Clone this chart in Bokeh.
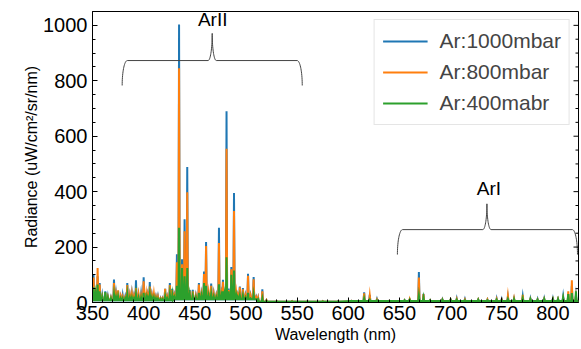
import numpy as np
from bokeh.plotting import figure
from bokeh.models import Range1d, SingleIntervalTicker, Legend, LegendItem
from bokeh.core.properties import value
from bokeh.embed import file_html
from bokeh.resources import INLINE

# ---------------- data ----------------
series_names = ["Ar:1000mbar", "Ar:800mbar", "Ar:400mabr"]
series_colors = ["#1f77b4", "#ff7f0e", "#2ca02c"]

peak_wl = [351.0, 353.0, 355.0, 357.0, 359.5, 362.5, 365.0, 368.0, 371.0, 373.0,
           375.0, 377.5, 379.5, 382.0, 384.0, 386.5, 388.5, 390.5, 392.5, 395.0,
           397.5, 400.0, 402.5, 404.0, 406.0, 408.0, 410.0, 412.0, 414.0, 416.5,
           418.5, 421.0, 423.0, 425.6, 428.0, 430.0, 432.5, 434.6, 437.5, 440.0,
           442.6, 445.0, 448.0, 451.0, 454.0, 456.5, 459.0, 461.0, 463.5, 466.0,
           468.5, 471.0, 473.6, 476.0, 477.5, 479.0, 481.0, 483.0, 485.7, 488.3,
           490.5, 492.0, 494.0, 497.0, 499.5, 502.0, 504.5, 507.5, 510.0, 512.0,
           516.0, 520.0, 530.0, 545.0, 560.0, 575.0, 590.0, 603.0, 615.5, 621.0,
           628.0, 640.0, 655.0, 660.0, 669.0, 673.5, 680.0, 692.0, 700.0, 706.0,
           714.0, 727.0, 736.0, 745.0, 750.0, 756.0, 762.0, 770.5, 778.0, 785.0,
           791.5, 800.0, 805.0, 810.0, 815.0, 818.5, 822.5]

peak_1000 = [100, 40, 95, 70, 25, 40, 22, 18, 83, 30,
             40, 20, 25, 20, 70, 25, 30, 22, 80, 25,
             30, 91, 35, 25, 74, 25, 33, 20, 21, 15,
             15, 49, 20, 70, 49, 25, 174, 1003, 156, 300,
             489, 45, 46, 25, 70, 30, 112, 218, 35, 68,
             30, 25, 270, 30, 82, 40, 690, 50, 128, 395,
             35, 25, 58, 52, 25, 104, 25, 92, 20, 15,
             48, 8, 5, 5, 4, 5, 4, 6, 37, 28,
             12, 6, 8, 10, 110, 31, 8, 11, 10, 14,
             12, 10, 10, 14, 12, 20, 14, 22, 14, 12,
             14, 14, 12, 22, 30, 60, 25]

peak_800 = [90, 45, 124, 65, 22, 35, 20, 18, 70, 28,
            44, 22, 20, 18, 63, 25, 30, 22, 52, 28,
            25, 77, 30, 25, 58, 25, 30, 20, 20, 15,
            15, 49, 20, 63, 45, 25, 145, 845, 138, 257,
            398, 40, 40, 25, 65, 30, 103, 204, 35, 60,
            30, 25, 215, 30, 75, 40, 555, 45, 120, 330,
            35, 25, 55, 48, 25, 96, 25, 84, 20, 15,
            40, 8, 5, 5, 4, 5, 4, 6, 33, 25,
            10, 6, 8, 12, 90, 30, 8, 10, 10, 12,
            10, 10, 10, 12, 10, 24, 15, 28, 12, 10,
            12, 12, 12, 15, 40, 80, 22]

peak_400 = [55, 30, 65, 40, 20, 38, 18, 15, 30, 20,
            22, 15, 15, 15, 30, 18, 18, 15, 30, 18,
            18, 35, 20, 18, 30, 18, 18, 15, 14, 12,
            12, 22, 15, 30, 28, 20, 60, 270, 124, 95,
            124, 30, 25, 20, 35, 25, 70, 60, 25, 30,
            22, 20, 66, 25, 40, 30, 163, 40, 100, 115,
            25, 20, 25, 25, 18, 35, 15, 30, 12, 10,
            15, 6, 4, 4, 4, 4, 4, 5, 15, 10,
            8, 5, 8, 10, 25, 18, 8, 10, 10, 10,
            8, 10, 8, 10, 8, 12, 12, 15, 12, 10,
            12, 12, 12, 18, 30, 34, 40]

# background level between lines, per wavelength band
floor_edges = [350, 430, 512, 600]
floor_1000 = [8, 12, 3, 4]
floor_800 = [10, 14, 3, 4]
floor_400 = [8, 12, 3, 5]

x_ticks_major = 50
y_ticks_major = 200
y_right_major = [0, 200, 400, 600, 800, 1000]
y_right_minor = [50, 100, 150, 250, 300, 350, 450, 500, 550, 650, 700, 750, 850, 900, 950, 1050]

# annotation braces: (left, right, middle, horizontal level, end level, tip level)
brace_arII = (379.0, 555.0, 467.0, 873.0, 783.0, 971.0)
brace_arI = (648.0, 824.0, 735.5, 263.0, 173.0, 356.0)
label_arII = ("ArII", 467.5, 1020.0)
label_arI = ("ArI", 737.5, 411.0)

X_START, X_END = 350, 825

# ---------------- build ----------------
FONT = "Liberation Sans"
p = figure(width=581, height=349, output_backend="svg", toolbar_location=None,
           x_range=Range1d(X_START, X_END), y_range=Range1d(0, 1050),
           min_border_left=92, min_border_right=3, min_border_top=11, min_border_bottom=47)
p.xgrid.visible = False
p.ygrid.visible = False
p.outline_line_color = "black"
p.outline_line_width = 1
p.background_fill_color = "white"
p.border_fill_color = "white"

HW = 0.6


def build(heights, floors):
    xs, ys = [], []
    def fl(w):
        i = int(np.searchsorted(floor_edges, w, side="right")) - 1
        return floors[max(i, 0)]
    xs.append(float(X_START)); ys.append(fl(X_START))
    for w, h in zip(peak_wl, heights):
        f = fl(w)
        xs += [w - HW, w, w + HW]
        ys += [f, h, f]
    xs.append(float(X_END)); ys.append(fl(X_END))
    return xs, ys


renderers = []
for heights, floors, color in [(peak_1000, floor_1000, series_colors[0]),
                               (peak_800, floor_800, series_colors[1]),
                               (peak_400, floor_400, series_colors[2])]:
    xs, ys = build(heights, floors)
    r = p.line(xs, ys, line_color=color, line_width=2.0, line_join="miter")
    renderers.append(r)


def brace(x0, x1, xm, yh, ye, yt, rx_end=5.0, rx_mid=4.0):
    t = np.linspace(0, np.pi / 2, 20)
    lx = x0 + rx_end * (1 - np.cos(t))
    ly = ye + (yh - ye) * np.sin(t)
    mx = xm - rx_mid + rx_mid * np.sin(t)
    my = yh + (yt - yh) * (1 - np.cos(t))
    xs = list(lx) + list(mx) + list((2 * xm - mx)[::-1]) + list((x1 - rx_end * (1 - np.cos(t)))[::-1])
    ys = list(ly) + list(my) + list(my[::-1]) + list(ly[::-1])
    return xs, ys


for b in (brace_arII, brace_arI):
    bx, by = brace(*b)
    p.line(bx, by, line_color="#444444", line_width=1.0)

for txt, tx, ty in (label_arII, label_arI):
    p.text(x=[tx], y=[ty], text=[txt], text_font=value(FONT), text_font_size="19px",
           text_align="center", text_baseline="middle", text_color="black")

# inward ticks on the right spine (dash markers centred on the frame edge, half clipped)
p.scatter(x=[X_END] * len(y_right_major), y=y_right_major, marker="dash", size=10,
          line_color="black", line_width=1)
p.scatter(x=[X_END] * len(y_right_minor), y=y_right_minor, marker="dash", size=6,
          line_color="black", line_width=1)

# axes
for ax in (p.xaxis[0], p.yaxis[0]):
    ax.major_tick_in = 5
    ax.major_tick_out = 0
    ax.minor_tick_in = 3
    ax.minor_tick_out = 0
    ax.axis_line_color = "black"
    ax.major_label_text_font = FONT
    ax.major_label_text_font_size = "20px"
    ax.major_label_text_color = "black"
    ax.axis_label_text_font = FONT
    ax.axis_label_text_font_size = "16px"
    ax.axis_label_text_font_style = "normal"
    ax.axis_label_text_color = "black"

p.xaxis.ticker = SingleIntervalTicker(interval=x_ticks_major, num_minor_ticks=5)
p.yaxis.ticker = SingleIntervalTicker(interval=y_ticks_major, num_minor_ticks=4)
p.xaxis.axis_label = "Wavelength (nm)"
p.yaxis.axis_label = "Radiance (uW/cm²/sr/nm)"
p.xaxis.major_label_standoff = 3
p.yaxis.major_label_standoff = 5
p.xaxis.axis_label_standoff = 3
p.yaxis.axis_label_standoff = 0

legend = Legend(items=[LegendItem(label=n, renderers=[r]) for n, r in zip(series_names, renderers)],
                location="top_right", margin=8, padding=8, spacing=5,
                label_text_font=FONT, label_text_font_size="21px", label_standoff=12,
                glyph_width=45, glyph_height=26, label_height=26,
                border_line_color="#cccccc", border_line_width=1,
                background_fill_alpha=0.8)
p.add_layout(legend)

open("out.html", "w").write(file_html(p, INLINE))
